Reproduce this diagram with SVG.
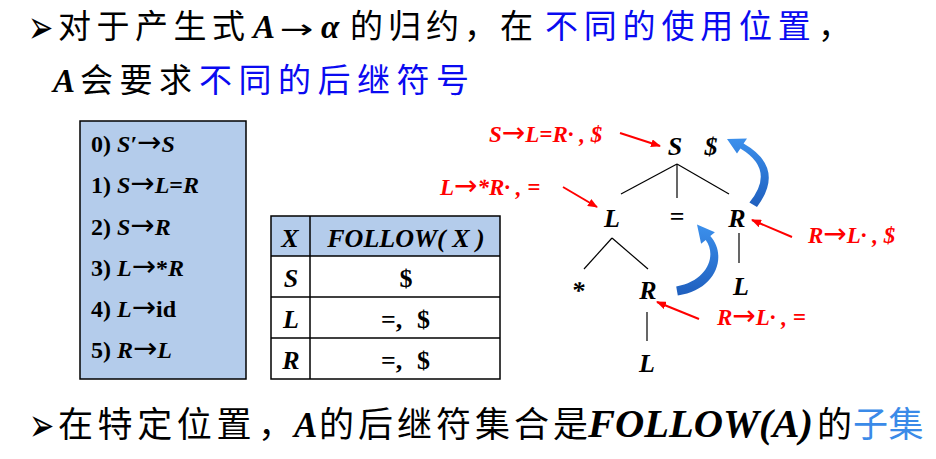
<svg xmlns="http://www.w3.org/2000/svg" width="936" height="459" viewBox="0 0 936 459">
<defs>
<style>
.cjk{font-family:'Noto Sans CJK SC',sans-serif;fill:#000}
.lat{font-family:'Liberation Serif','Times New Roman',serif;font-weight:bold;font-style:italic;fill:#000}
.up{font-style:normal}
.ar{font-family:'DejaVu Sans',sans-serif;font-style:normal;font-weight:normal}
.blue{fill:#0A0AF0}
.lblue{fill:#3A8AE8}
.bul{font-family:'DejaVu Sans',sans-serif;fill:#000}
.gram{font-family:'Liberation Serif','Times New Roman',serif;font-weight:bold;font-size:24px;fill:#000}
.tb{font-family:'Liberation Serif','Times New Roman',serif;font-weight:bold;font-size:26px;fill:#000}
.node{font-family:'Liberation Serif','Times New Roman',serif;font-weight:bold;font-style:italic;font-size:26px;fill:#000;text-anchor:middle}
.red{font-family:'Liberation Serif','Times New Roman',serif;font-weight:bold;font-style:italic;font-size:23px;fill:#FF0000}
.tl{stroke:#000;stroke-width:1.2;fill:none}
.ra{stroke:#FF0000;stroke-width:2;fill:none;marker-end:url(#rh)}
.grid{stroke:#000;stroke-width:1.5;fill:none}
</style>
<marker id="rh" viewBox="0 0 10 8" refX="9" refY="4" markerWidth="10" markerHeight="8" markerUnits="userSpaceOnUse" orient="auto">
<path d="M0,0 L10,4 L0,8 Z" fill="#FF0000"/>
</marker>
<linearGradient id="bg" x1="0" y1="1" x2="0" y2="0">
<stop offset="0" stop-color="#1F5FBE"/>
<stop offset="1" stop-color="#3C90EC"/>
</linearGradient>
</defs>

<g id="title">
<text class="bul" transform="translate(28,43) scale(0.72,1.1)" font-size="42">➢</text>
<text class="cjk" x="58" y="38" font-size="33" letter-spacing="5.5">对于产生式</text>
<text class="lat" x="253" y="38" font-size="33">A</text>
<text class="ar" transform="translate(280,38) scale(1.55,1)" font-size="26">→</text>
<text class="lat" x="321" y="38" font-size="33">α</text>
<text class="cjk" x="350" y="38" font-size="33" letter-spacing="5">的归约，</text>
<text class="cjk" x="500" y="38" font-size="33">在</text>
<text class="cjk blue" x="545" y="38" font-size="33" letter-spacing="5.8">不同的使用位置</text>
<text class="cjk" x="818" y="38" font-size="33">，</text>
<text class="lat" x="53" y="92" font-size="33">A</text>
<text class="cjk" x="80" y="92" font-size="33" letter-spacing="6.5">会要求</text>
<text class="cjk blue" x="199" y="92" font-size="33" letter-spacing="6.5">不同的后继符号</text>
</g>

<g id="grammar">
<rect x="80" y="121" width="166" height="258" fill="#B4CCEB" stroke="#000" stroke-width="1.5"/>
<text class="gram" x="91" y="152">0) <tspan font-style="italic">S′</tspan><tspan class="ar" font-size="29">→</tspan><tspan font-style="italic">S</tspan></text>
<text class="gram" x="91" y="193">1) <tspan font-style="italic">S</tspan><tspan class="ar" font-size="29">→</tspan><tspan font-style="italic">L</tspan>=<tspan font-style="italic">R</tspan></text>
<text class="gram" x="91" y="235">2) <tspan font-style="italic">S</tspan><tspan class="ar" font-size="29">→</tspan><tspan font-style="italic">R</tspan></text>
<text class="gram" x="91" y="276">3) <tspan font-style="italic">L</tspan><tspan class="ar" font-size="29">→</tspan>*<tspan font-style="italic">R</tspan></text>
<text class="gram" x="91" y="317">4) <tspan font-style="italic">L</tspan><tspan class="ar" font-size="29">→</tspan>id</text>
<text class="gram" x="91" y="358">5) <tspan font-style="italic">R</tspan><tspan class="ar" font-size="29">→</tspan><tspan font-style="italic">L</tspan></text>
</g>

<g id="follow-table">
<rect x="271" y="216" width="229" height="40" fill="#B4CCEB"/>
<rect class="grid" x="271" y="216" width="229" height="163"/>
<line class="grid" x1="271" y1="256" x2="500" y2="256"/>
<line class="grid" x1="271" y1="297" x2="500" y2="297"/>
<line class="grid" x1="271" y1="338" x2="500" y2="338"/>
<line class="grid" x1="310" y1="216" x2="310" y2="379"/>
<text class="tb" font-style="italic" x="290" y="247" text-anchor="middle">X</text>
<text class="tb" font-style="italic" x="406" y="247" text-anchor="middle">FOLLOW( X )</text>
<text class="tb" font-style="italic" x="291" y="287" text-anchor="middle">S</text>
<text class="tb" x="406" y="287" text-anchor="middle">$</text>
<text class="tb" font-style="italic" x="291" y="328" text-anchor="middle">L</text>
<text class="tb" x="381" y="328">=,</text>
<text class="tb" x="417" y="328">$</text>
<text class="tb" font-style="italic" x="291" y="369" text-anchor="middle">R</text>
<text class="tb" x="381" y="369">=,</text>
<text class="tb" x="417" y="369">$</text>
</g>

<g id="connectors">
<line class="tl" x1="677" y1="164" x2="621" y2="194"/>
<line class="tl" x1="677" y1="164" x2="677" y2="198"/>
<line class="tl" x1="677" y1="164" x2="729" y2="194"/>
<line class="tl" x1="612" y1="238" x2="584" y2="269"/>
<line class="tl" x1="612" y1="238" x2="648" y2="269"/>
<line class="tl" x1="739" y1="233" x2="739" y2="263"/>
<line class="tl" x1="647" y1="312" x2="647" y2="341"/>
<line class="ra" x1="620" y1="133" x2="660" y2="146"/>
<line class="ra" x1="563" y1="187" x2="597" y2="207"/>
<line class="ra" x1="792" y1="237" x2="752" y2="220"/>
<line class="ra" x1="699" y1="319" x2="657" y2="302"/>
<path d="M757,207 Q786,168 743.6,143.5 L747,138.5 L727,139 L737,153.5 L740.4,148.5 Q776,170 749.4,202.4 Z" fill="url(#bg)"/>
<path d="M677.8,295.4 C716,290 728,256 710.3,236.1 L714.9,232.2 L697,224.5 L701.1,243.8 L705.7,239.9 C717,255 708,281 676.2,286.6 Z" fill="url(#bg)"/>
</g>

<g id="node-S"><text class="node" x="675" y="155">S</text><text class="node up" font-weight="normal" x="711" y="155" font-size="24">$</text></g>
<g id="node-L1"><text class="node" x="612" y="227">L</text></g>
<g id="node-eq"><text class="node up" x="677" y="225">=</text></g>
<g id="node-R1"><text class="node" x="737" y="227">R</text></g>
<g id="node-L3"><text class="node" x="741" y="295">L</text></g>
<g id="node-star"><text class="node up" x="578" y="299">*</text></g>
<g id="node-R2"><text class="node" x="648" y="299">R</text></g>
<g id="node-L2"><text class="node" x="647" y="372">L</text></g>

<g id="labels">
<text class="red" x="489" y="142">S<tspan class="ar" font-size="28">→</tspan>L=R· , $</text>
<text class="red" x="440" y="195">L<tspan class="ar" font-size="28">→</tspan>*R· , =</text>
<text class="red" x="808" y="243">R<tspan class="ar" font-size="28">→</tspan>L· , $</text>
<text class="red" x="717" y="325">R<tspan class="ar" font-size="28">→</tspan>L· , =</text>
</g>

<g id="conclusion">
<text class="bul" transform="translate(29,441) scale(0.72,1.1)" font-size="42">➢</text>
<text y="437" font-size="35"><tspan class="cjk" x="58" letter-spacing="4.6">在特定位置</tspan><tspan class="cjk" x="258">，</tspan><tspan class="lat" x="294">A</tspan><tspan class="cjk" x="319" letter-spacing="4">的后继符集合是</tspan></text>
<text class="lat" x="588" y="437" font-size="40" textLength="225" lengthAdjust="spacingAndGlyphs">FOLLOW(A)</text>
<text class="cjk" x="817" y="437" font-size="35">的</text>
<text class="cjk lblue" x="853" y="437" font-size="35" letter-spacing="0.5">子集</text>
</g>
</svg>
